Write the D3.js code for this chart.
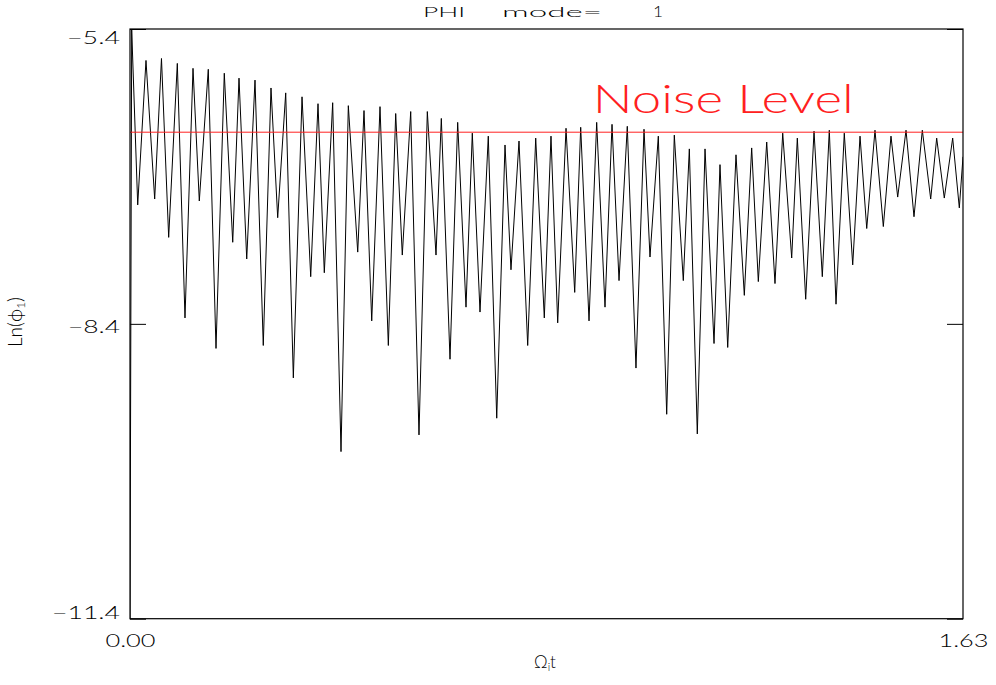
<!DOCTYPE html>
<html>
<head>
<meta charset="utf-8">
<script src="https://cdn.jsdelivr.net/npm/d3@7"></script>
<style>
  html, body { margin: 0; padding: 0; background: #fff; }
  svg { display: block; }
  text { font-family: Lato, "DejaVu Sans", sans-serif; font-weight: 300; white-space: pre; }
</style>
</head>
<body>
<svg id="chart" width="996" height="685"></svg>
<script>
// Time axis (Omega_i t) and ln(phi_1) samples for mode 1
const timeOmega = [
  0, 0.0033, 0.0151, 0.0313, 0.0483, 0.0616, 0.0757, 0.0926, 0.1076, 0.1233,
  0.1356, 0.1532, 0.1683, 0.1845, 0.2010, 0.2133, 0.2284, 0.2446, 0.2608, 0.2759,
  0.2890, 0.3047, 0.3196, 0.3366, 0.3536, 0.3679, 0.3802, 0.3966, 0.4129, 0.4272,
  0.4456, 0.4579, 0.4730, 0.4892, 0.5055, 0.5199, 0.5328, 0.5493, 0.5655, 0.5818,
  0.5988, 0.6092, 0.6262, 0.6412, 0.6575, 0.6698, 0.6849, 0.7011, 0.7176, 0.7338,
  0.7455, 0.7612, 0.7782, 0.7939, 0.8107, 0.8238, 0.8369, 0.8532, 0.8702, 0.8819,
  0.8982, 0.9132, 0.9295, 0.9432, 0.9569, 0.9731, 0.9901, 1.0058, 1.0175, 1.0338,
  1.0502, 1.0651, 1.0827, 1.0945, 1.1101, 1.1252, 1.1428, 1.1545, 1.1696, 1.1858,
  1.2021, 1.2165, 1.2295, 1.2459, 1.2621, 1.2772, 1.2948, 1.3058, 1.3222, 1.3385,
  1.3547, 1.3684, 1.3815, 1.3977, 1.4142, 1.4285, 1.4416, 1.4578, 1.4741, 1.4891,
  1.5022, 1.5185, 1.5341, 1.5504, 1.5668, 1.5785, 1.5934, 1.6098, 1.6228, 1.6300
];
const lnPhi = [
  -11.40, -5.40, -7.19, -5.72, -7.13, -5.70, -7.52, -5.75, -8.34, -5.80,
  -7.15, -5.81, -8.65, -5.85, -7.57, -5.90, -7.74, -5.92, -8.62, -6.00,
  -7.32, -6.05, -8.95, -6.09, -7.92, -6.16, -7.88, -6.15, -9.70, -6.18,
  -7.67, -6.23, -8.37, -6.19, -8.62, -6.26, -7.70, -6.24, -9.53, -6.24,
  -7.70, -6.31, -8.76, -6.35, -8.23, -6.46, -8.28, -6.49, -9.36, -6.58,
  -7.85, -6.54, -8.62, -6.51, -8.34, -6.49, -8.39, -6.41, -8.08, -6.40,
  -8.37, -6.35, -8.23, -6.37, -7.96, -6.39, -8.85, -6.42, -7.72, -6.49,
  -9.32, -6.48, -7.96, -6.62, -9.52, -6.62, -8.60, -6.78, -8.64, -6.68,
  -8.11, -6.61, -7.97, -6.55, -7.99, -6.46, -7.73, -6.51, -8.15, -6.44,
  -7.92, -6.43, -8.20, -6.46, -7.80, -6.49, -7.43, -6.43, -7.41, -6.49,
  -7.11, -6.43, -7.31, -6.43, -7.13, -6.51, -7.12, -6.51, -7.22, -6.70
];
const noiseLevel = -6.45;
const yTickValues = [-5.4, -8.4, -11.4];
const xTickValues = [0, 1.63];

const svg = d3.select("#chart");
const margin = { left: 130, right: 33, top: 29, bottom: 66.3 };
const W = 996, H = 685;
const plotW = W - margin.left - margin.right;
const plotH = H - margin.top - margin.bottom;

const x = d3.scaleLinear().domain([0, 1.63]).range([0, plotW]);
const y = d3.scaleLinear().domain([-11.4, -5.4]).range([plotH, 0]);

const g = svg.append("g").attr("transform", `translate(${margin.left},${margin.top})`);

g.append("defs").append("clipPath").attr("id", "plotClip")
  .append("rect").attr("x", 0).attr("y", 0).attr("width", plotW).attr("height", plotH);

// Signal
const series = timeOmega.map((t, i) => [t, lnPhi[i]]);
g.append("path")
  .datum(series)
  .attr("clip-path", "url(#plotClip)")
  .attr("fill", "none")
  .attr("stroke", "#000")
  .attr("stroke-width", 1)
  .attr("stroke-linejoin", "round")
  .attr("d", d3.line().x(d => x(d[0])).y(d => y(d[1])));

// Noise level reference line
g.append("line")
  .attr("x1", 0).attr("x2", plotW)
  .attr("y1", y(noiseLevel)).attr("y2", y(noiseLevel))
  .attr("stroke", "#ff2020").attr("stroke-width", 1);

g.append("text")
  .attr("x", 462.7).attr("y", 84.3)
  .attr("font-size", 39)
  .attr("font-weight", 200)
  .attr("fill", "#ff2020")
  .attr("textLength", 261).attr("lengthAdjust", "spacingAndGlyphs")
  .text("Noise Level");

// Frame
g.append("rect")
  .attr("x", 0).attr("y", 0).attr("width", plotW).attr("height", plotH)
  .attr("fill", "none").attr("stroke", "#000").attr("stroke-width", 1.2);

const fmtY = d => d3.format(".1f")(d).replace("-", "\u2212");
const yLabelWidth = { "-5.4": 53, "-8.4": 52, "-11.4": 68 };
const yLabelDy = { "-5.4": "0.78em", "-8.4": "0.46em", "-11.4": "-0.02em" };

// Left axis with inward ticks
const yAxisL = g.append("g")
  .call(d3.axisLeft(y).tickValues(yTickValues).tickSizeInner(-16).tickSizeOuter(0).tickPadding(10).tickFormat(fmtY));
yAxisL.select(".domain").remove();
yAxisL.selectAll("line").attr("stroke", "#000");
yAxisL.selectAll("text")
  .attr("font-size", 18)
  .attr("fill", "#000")
  .attr("font-family", null)
  .attr("textLength", d => yLabelWidth[String(d)])
  .attr("lengthAdjust", "spacingAndGlyphs")
  .attr("dy", d => yLabelDy[String(d)]);

// Right axis ticks only
const yAxisR = g.append("g").attr("transform", `translate(${plotW},0)`)
  .call(d3.axisRight(y).tickValues(yTickValues).tickSizeInner(-16).tickSizeOuter(0).tickFormat(""));
yAxisR.select(".domain").remove();
yAxisR.selectAll("line").attr("stroke", "#000");

// Bottom axis labels
const xAxis = g.append("g").attr("transform", `translate(0,${plotH})`)
  .call(d3.axisBottom(x).tickValues(xTickValues).tickSize(0).tickPadding(16).tickFormat(d3.format(".2f")));
xAxis.select(".domain").remove();
xAxis.selectAll("text")
  .attr("font-size", 18)
  .attr("fill", "#000")
  .attr("font-family", null)
  .attr("textLength", 50)
  .attr("lengthAdjust", "spacingAndGlyphs");

// Title
const title = svg.append("text").attr("y", 16.7).attr("font-size", 14);
title.append("tspan").attr("x", 423).attr("textLength", 42).attr("lengthAdjust", "spacingAndGlyphs").text("PHI");
title.append("tspan").attr("x", 502).attr("textLength", 100).attr("lengthAdjust", "spacingAndGlyphs").text("mode=");
title.append("tspan").attr("x", 653).attr("font-size", 15).attr("textLength", 10).attr("lengthAdjust", "spacingAndGlyphs").text("1");

// Axis titles
const xt = svg.append("text")
  .attr("x", 545).attr("y", 668)
  .attr("text-anchor", "middle")
  .attr("font-size", 17);
xt.append("tspan").text("\u03A9");
xt.append("tspan").attr("font-size", 11).attr("dy", 3).text("i");
xt.append("tspan").attr("dy", -3).text("t");

const yt = svg.append("text")
  .attr("transform", "translate(22,322) rotate(-90)")
  .attr("text-anchor", "middle")
  .attr("font-size", 19);
yt.append("tspan").text("Ln(\u03D5");
yt.append("tspan").attr("font-size", 12).attr("dy", 3).text("1");
yt.append("tspan").attr("dy", -3).text(")");
</script>
</body>
</html>
